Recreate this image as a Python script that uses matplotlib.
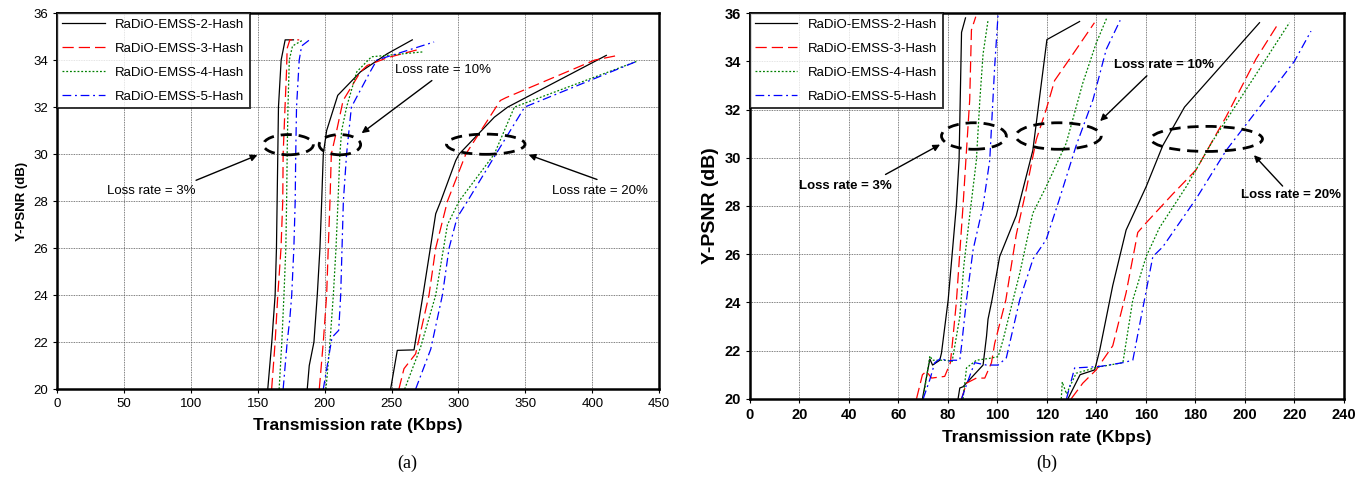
import numpy as np
import matplotlib
matplotlib.use("Agg")
import matplotlib.pyplot as plt
from matplotlib.patches import Ellipse

plt.rcParams['font.family'] = ['Liberation Sans', 'DejaVu Sans']

labels = ["RaDiO-EMSS-2-Hash", "RaDiO-EMSS-3-Hash", "RaDiO-EMSS-4-Hash", "RaDiO-EMSS-5-Hash"]

# ---- panel (a): three loss rates, each with four curves (x = rate, y = PSNR)
a_x = [
    # loss 3%
    [[157.5, 160.5, 163, 164, 164.5, 165, 165.5, 167.5, 170.5, 176.7],
     [160.4, 163, 165, 167.4, 168.7, 169, 170.4, 171.5, 172, 174, 181],
     [166, 168, 169.6, 171, 171.6, 172, 172.6, 173.6, 176, 184],
     [169, 172, 174, 175.4, 177, 178, 178.4, 179, 181, 182.8, 188.7]],
    # loss 10%
    [[187, 188.5, 192, 194.5, 196.5, 197.8, 199, 201.5, 209.8, 226.8, 246.8, 265.5],
     [196, 199, 201.5, 202.7, 204, 205, 209, 213.8, 226.8, 231.8, 246.8, 270.8],
     [201, 204, 206.5, 208.5, 210, 211.4, 212.7, 216.4, 224, 235, 273.8],
     [199, 205.5, 210.5, 212, 213, 214, 216.4, 220, 234, 239, 281.8]],
    # loss 20%
    [[249.3, 254.3, 266.8, 273.5, 279, 283, 286.8, 298, 300.5, 326.8, 336.8, 410.5],
     [255.5, 259.3, 268, 278, 283, 291.8, 305.5, 331.3, 335.5, 401.8, 419.3],
     [259.8, 271.8, 283, 291.8, 300.5, 326.8, 341.8, 433],
     [268, 279.3, 288, 293, 299, 306.8, 328, 349.5, 433]],
]
a_y = [
    [[20, 22, 24, 26, 28, 30, 32, 34, 34.86, 34.86],
     [20, 22, 24, 26, 28, 30, 32, 33.5, 34.5, 34.86, 34.86],
     [20, 22, 24, 26, 28, 30, 32, 34, 34.6, 34.86],
     [20, 22, 23, 24, 26, 28, 30, 32, 34, 34.6, 34.86]],
    [[20, 21, 22, 24, 26, 28, 30, 31, 32.5, 33.5, 34.27, 34.86],
     [20, 22, 24, 26, 28, 30, 31, 32.28, 33.5, 33.77, 34.1, 34.46],
     [20, 22, 24, 26, 28, 30, 31, 32, 33.5, 34.14, 34.35],
     [20, 22.2, 22.5, 24, 26, 28, 30, 32, 33.5, 34, 34.77]],
    [[20, 21.65, 21.67, 24, 26, 27.46, 28, 29.73, 30, 31.57, 32, 34.2],
     [20, 20.87, 21.5, 24, 26, 28, 30, 32.28, 32.4, 34, 34.2],
     [20, 21.8, 24, 27, 28, 30, 32, 33.94],
     [20, 21.7, 24, 26, 27.3, 28, 30, 32, 33.94]],
]

# ---- panel (b)
b_x = [
    [[69.7, 72.7, 73.8, 76.7, 77.4, 80.1, 83.4, 84.5, 85.5, 87.1],
     [67.3, 69.7, 71.3, 73.4, 78.7, 81, 81.8, 83.4, 86.1, 87.5, 88.8, 89.5, 91.25],
     [70, 72.7, 73.8, 79.4, 81.7, 84.8, 86.4, 88.8, 91.5, 92.9, 94.2, 96.2],
     [70, 72.7, 74.7, 77.4, 79.4, 82.1, 84.8, 85.5, 87.5, 90.2, 94.2, 96.9, 98.9, 100.3]],
    [[84.1, 84.8, 86.1, 94.2, 95.6, 96.2, 97.8, 100.9, 107.6, 114.3, 120, 133.2],
     [85.5, 87.5, 91.5, 94.9, 97.6, 98.9, 103.4, 107.6, 111.7, 115.7, 119.7, 123.1, 129.2, 139.2],
     [86.1, 87.5, 91.5, 96.9, 100.3, 102.3, 106.3, 109, 114.3, 119.7, 127.8, 134.5, 139.9, 144.2],
     [85.5, 87.5, 90.8, 95.6, 100.3, 103.6, 109, 114.4, 119.7, 125.1, 131.8, 138.6, 144, 149.6]],
    [[128.5, 133.4, 139.3, 141.3, 146.6, 152, 160.1, 166.8, 175.6, 205.9],
     [129.8, 134.5, 139.9, 146.6, 152, 156.7, 160.1, 170.9, 180.3, 192.4, 204.5, 213.7],
     [125.8, 126.2, 127.9, 131.8, 139.9, 150.7, 154.7, 160.1, 165.5, 176.3, 187, 197.8, 218],
     [127.9, 131.2, 141.3, 150.7, 154.7, 159.4, 162.8, 166.8, 180.3, 192.4, 205.9, 220, 226.7]],
]
b_y = [
    [[20, 21.65, 21.4, 21.6, 21.9, 24.1, 28, 29.9, 35.2, 35.8],
     [20, 21.0, 21.14, 20.86, 20.93, 21.5, 22.3, 24, 28, 30.3, 32.4, 35.3, 35.85],
     [20, 21.78, 21.6, 21.6, 21.55, 23.4, 25.5, 27.6, 29.9, 32.4, 34.3, 35.7],
     [20, 20.8, 21.5, 21.7, 21.55, 21.6, 21.6, 22.2, 24.1, 26.2, 28, 29.9, 33.8, 36]],
    [[20, 20.45, 20.5, 21.4, 22.6, 23.3, 24.1, 25.9, 27.6, 30.3, 34.9, 35.65],
     [20, 20.65, 20.86, 20.86, 21.5, 22.3, 24.1, 26.8, 28.7, 30.75, 32, 33.2, 34.1, 35.6],
     [20, 21.28, 21.6, 21.68, 21.75, 22.45, 24.1, 25.2, 27.7, 28.8, 30.6, 33.1, 34.75, 35.8],
     [20, 20.58, 21.5, 21.4, 21.4, 21.7, 24.1, 25.8, 26.6, 28.3, 30.5, 32.4, 34.5, 35.7]],
    [[20, 21.0, 21.2, 22.0, 24.7, 27, 28.8, 30.5, 32.1, 35.6],
     [20, 20.65, 21.2, 22.2, 24.4, 26.9, 27.3, 28.5, 29.5, 31.7, 34.1, 35.6],
     [20, 20.7, 20.2, 21.06, 21.3, 21.5, 24.1, 25.9, 27.1, 28.8, 30.7, 32.4, 35.6],
     [20, 21.28, 21.34, 21.5, 21.6, 24.1, 25.9, 26.3, 28.3, 30.3, 32.1, 34, 35.25]],
]

# ellipses: (center x, center y, width, height)
a_ell = [(172.9, 30.4, 37.3, 0.86), (211.4, 30.4, 31.0, 0.86), (320.4, 30.42, 58.7, 0.86)]
b_ell = [(90.5, 30.9, 26.2, 1.1), (124.7, 30.9, 34.5, 1.1), (184.6, 30.78, 45.0, 1.04)]

# annotations: text, text position (left x, y), arrow tail, arrow head
a_notes = [("Loss rate = 3%", (37.3, 28.41), (102, 28.84), (151.7, 30.0)),
           ("Loss rate = 10%", (252.5, 33.59), (281.8, 33.2), (226, 30.82)),
           ("Loss rate = 20%", (370, 28.45), (405.5, 28.88), (350.5, 30.01))]
b_notes = [("Loss rate = 3%", (19.8, 28.81), (53.8, 29.25), (77.8, 30.6)),
           ("Loss rate = 10%", (147.3, 33.86), (161.2, 33.48), (140.7, 31.44)),
           ("Loss rate = 20%", (198.5, 28.46), (216, 28.74), (202.9, 30.19))]

colors = ["black", "#ff0000", "#008000", "#0000ff"]
styles = ["-", (0, (9, 4)), (0, (1.5, 1.5)), (0, (7, 3, 1.5, 3))]

fig = plt.figure(figsize=(13.67, 4.84), dpi=100)
ax1 = fig.add_axes([0.0417, 0.196, 0.4405, 0.777])
ax2 = fig.add_axes([0.5486, 0.176, 0.4345, 0.797])


def draw(ax, xs, ys, ells, notes, xmax, xstep, bold):
    fw = "bold" if bold else "normal"
    for g in range(3):
        for k in range(4):
            ax.plot(xs[g][k], ys[g][k], color=colors[k], linestyle=styles[k], lw=0.9,
                    label=labels[k] if g == 0 else None)
    for cx, cy, w, h in ells:
        ax.add_patch(Ellipse((cx, cy), w, h, fill=False, ec="black", lw=2.0,
                             linestyle=(0, (4, 2.5)), zorder=5))
    for txt, pos, tail, head in notes:
        ax.text(pos[0], pos[1], txt, fontsize=9.5, fontweight=fw, va="center", ha="left")
        ax.annotate("", xy=head, xytext=tail,
                    arrowprops=dict(arrowstyle="-|>", color="black", lw=1.0, mutation_scale=10))
    ax.set_xlim(0, xmax)
    ax.set_ylim(20, 36)
    ax.set_xticks(np.arange(0, xmax + 1, xstep))
    ax.set_yticks(np.arange(20, 37, 2))
    ax.grid(True, color="#555555", linestyle=(0, (1, 1)), lw=0.6)
    for s in ax.spines.values():
        s.set_linewidth(1.8)
    ax.tick_params(direction="out", length=3, labelsize=10.5 if bold else 9.5)
    for lab in ax.get_xticklabels() + ax.get_yticklabels():
        lab.set_fontweight(fw)
    ax.set_xlabel("Transmission rate (Kbps)", fontsize=12.5, fontweight="bold", labelpad=6)
    leg = ax.legend(loc="upper left", fontsize=9.5, handlelength=3.2, frameon=True,
                    fancybox=False, borderaxespad=0.0, labelspacing=0.9)
    leg.get_frame().set_edgecolor("black")
    leg.get_frame().set_linewidth(1.4)


draw(ax1, a_x, a_y, a_ell, a_notes, 450, 50, False)
draw(ax2, b_x, b_y, b_ell, b_notes, 240, 20, True)
ax1.set_ylabel("Y-PSNR (dB)", fontsize=9.5, fontweight="bold", labelpad=4)
ax2.set_ylabel("Y-PSNR (dB)", fontsize=14, fontweight="bold", labelpad=4)

fig.text(0.298, 0.033, "(a)", fontsize=13, family="Liberation Serif", ha="center")
fig.text(0.766, 0.033, "(b)", fontsize=13, family="Liberation Serif", ha="center")

fig.savefig("out.png", dpi=100)
